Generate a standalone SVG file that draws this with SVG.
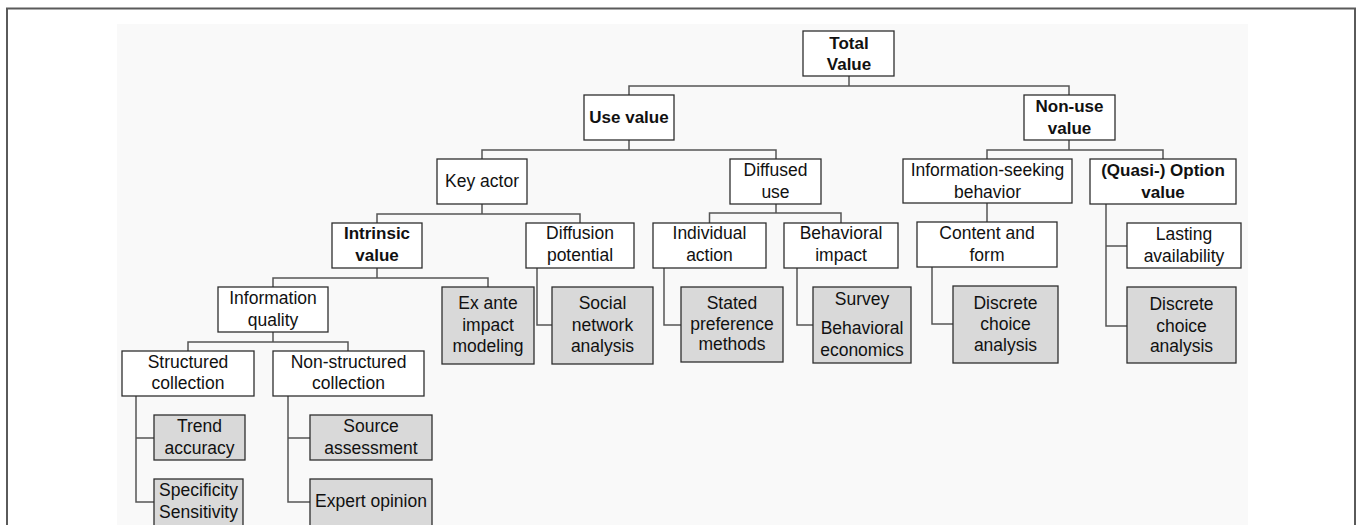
<svg xmlns="http://www.w3.org/2000/svg" width="1358" height="525" viewBox="0 0 1358 525">
<style>
.box{fill:#ffffff;stroke:#2e2e2e;stroke-width:1.3}
.gray{fill:#d9d9d9;stroke:#2e2e2e;stroke-width:1.3}
text{font-family:"Liberation Sans",Arial,sans-serif;font-size:17.5px;fill:#111111;text-anchor:middle}
.b{font-weight:bold;font-size:17px}
.con{fill:none;stroke:#555555;stroke-width:1.5}
</style>
<rect x="0" y="0" width="1358" height="525" fill="#ffffff"/>
<rect x="117" y="24" width="1131" height="510" fill="#f9f9f9"/>
<path d="M7,530 V8.5 H1355 V530" fill="none" stroke="#5a5a5a" stroke-width="2"/>
<g id="connectors" class="con">
<path d="M849,76 V86 M629,95 V86 H1069 V95"/>
<path d="M629,140 V150 M482,159 V150 H776 V159"/>
<path d="M1069,140 V150 M987,159 V150 H1163 V159"/>
<path d="M482,204 V214 M377,223 V214 H580 V223"/>
<path d="M776,204 V213 M709.5,223 V213 H841 V223"/>
<path d="M987,203 V222"/>
<path d="M1106,204 V326 H1127 M1106,246 H1127"/>
<path d="M377,268 V278 M273,287 V278 H488 V287"/>
<path d="M537,268 V325 H552"/>
<path d="M664,268 V325 H681"/>
<path d="M797,268 V325 H813"/>
<path d="M932,267 V324 H953"/>
<path d="M273,332 V342 M188,351 V342 H348 V351"/>
<path d="M136,396 V502 H154 M136,438 H154"/>
<path d="M288,396 V502 H310 M288,438 H310"/>
</g>
<g id="total-value"><rect class="box" x="803" y="31" width="91" height="45"/><text class="b" x="849" y="49">Total</text><text class="b" x="849" y="70">Value</text></g>
<g id="use-value"><rect class="box" x="584" y="95" width="90" height="45"/><text class="b" x="629" y="123">Use value</text></g>
<g id="non-use-value"><rect class="box" x="1024" y="95" width="91" height="45"/><text class="b" x="1069.5" y="112">Non-use</text><text class="b" x="1069.5" y="134">value</text></g>
<g id="key-actor"><rect class="box" x="437" y="159" width="90" height="45"/><text x="482" y="187">Key actor</text></g>
<g id="diffused-use"><rect class="box" x="730" y="159" width="91" height="45"/><text x="775.5" y="176">Diffused</text><text x="775.5" y="198">use</text></g>
<g id="info-seeking"><rect class="box" x="903" y="159" width="169" height="44"/><text x="987.5" y="176">Information-seeking</text><text x="987.5" y="198">behavior</text></g>
<g id="option-value"><rect class="box" x="1090" y="159" width="146" height="45"/><text class="b" x="1163" y="176">(Quasi-) Option</text><text class="b" x="1163" y="198">value</text></g>
<g id="intrinsic-value"><rect class="box" x="332" y="223" width="90" height="45"/><text class="b" x="377" y="239">Intrinsic</text><text class="b" x="377" y="261">value</text></g>
<g id="diffusion-potential"><rect class="box" x="526" y="223" width="108" height="45"/><text x="580" y="239">Diffusion</text><text x="580" y="261">potential</text></g>
<g id="individual-action"><rect class="box" x="653" y="223" width="113" height="45"/><text x="709.5" y="239">Individual</text><text x="709.5" y="261">action</text></g>
<g id="behavioral-impact"><rect class="box" x="784" y="223" width="114" height="45"/><text x="841" y="239">Behavioral</text><text x="841" y="261">impact</text></g>
<g id="content-form"><rect class="box" x="917" y="222" width="140" height="45"/><text x="987" y="239">Content and</text><text x="987" y="261">form</text></g>
<g id="lasting-availability"><rect class="box" x="1127" y="223" width="114" height="45"/><text x="1184" y="240">Lasting</text><text x="1184" y="262">availability</text></g>
<g id="information-quality"><rect class="box" x="218" y="287" width="110" height="45"/><text x="273" y="304">Information</text><text x="273" y="326">quality</text></g>
<g id="ex-ante"><rect class="gray" x="442" y="287" width="92" height="77"/><text x="488" y="309">Ex ante</text><text x="488" y="331">impact</text><text x="488" y="352">modeling</text></g>
<g id="social-network"><rect class="gray" x="552" y="287" width="101" height="77"/><text x="602.5" y="309">Social</text><text x="602.5" y="331">network</text><text x="602.5" y="352">analysis</text></g>
<g id="stated-preference"><rect class="gray" x="681" y="287" width="102" height="75"/><text x="732" y="309">Stated</text><text x="732" y="330">preference</text><text x="732" y="350">methods</text></g>
<g id="survey"><rect class="gray" x="813" y="287" width="98" height="76"/><text x="862" y="305">Survey</text><text x="862" y="334">Behavioral</text><text x="862" y="356">economics</text></g>
<g id="discrete-choice-1"><rect class="gray" x="953" y="286" width="105" height="77"/><text x="1005.5" y="309">Discrete</text><text x="1005.5" y="330">choice</text><text x="1005.5" y="351">analysis</text></g>
<g id="discrete-choice-2"><rect class="gray" x="1127" y="287" width="109" height="76"/><text x="1181.5" y="310">Discrete</text><text x="1181.5" y="332">choice</text><text x="1181.5" y="352">analysis</text></g>
<g id="structured-collection"><rect class="box" x="122" y="351" width="132" height="45"/><text x="188" y="368">Structured</text><text x="188" y="389">collection</text></g>
<g id="non-structured-collection"><rect class="box" x="273" y="351" width="151" height="45"/><text x="348.5" y="368">Non-structured</text><text x="348.5" y="389">collection</text></g>
<g id="trend-accuracy"><rect class="gray" x="154" y="415" width="91" height="45"/><text x="199.5" y="432">Trend</text><text x="199.5" y="454">accuracy</text></g>
<g id="specificity"><rect class="gray" x="154" y="479" width="89" height="50"/><text x="198.5" y="496">Specificity</text><text x="198.5" y="518">Sensitivity</text></g>
<g id="source-assessment"><rect class="gray" x="310" y="415" width="122" height="45"/><text x="371" y="432">Source</text><text x="371" y="454">assessment</text></g>
<g id="expert-opinion"><rect class="gray" x="310" y="479" width="122" height="50"/><text x="371" y="507">Expert opinion</text></g>
</svg>
